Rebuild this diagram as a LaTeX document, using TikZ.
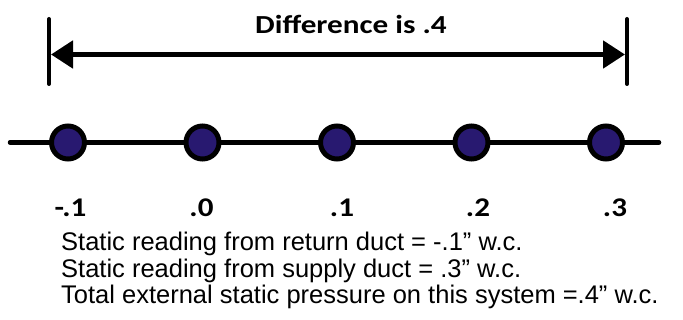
\documentclass[tikz,border=0pt]{standalone}
\usepackage{fontspec}
\setmainfont{Liberation Sans}
\newfontfamily\calib{Carlito}
\usetikzlibrary{arrows.meta}
\definecolor{dotblue}{RGB}{40,25,112}
\tikzset{
  dot/.style={circle,draw=black,line width=5pt,fill=dotblue,minimum size=33pt,inner sep=0pt},
  numlbl/.style={font=\calib\bfseries\fontsize{27}{29}\selectfont,inner sep=0pt,anchor=base,xscale=1.15},
  note/.style={font=\fontsize{25.5}{28}\selectfont,inner sep=0pt,anchor=base west},
  bar/.style={line width=4pt,line cap=round},
  dimarrow/.style={line width=5pt,>={Triangle[length=22pt,width=27pt]},<->},
}
\begin{document}
\begin{tikzpicture}[x=1pt,y=-1pt]
\useasboundingbox (0,0) rectangle (683,320);
% dimension bars
\coordinate (lt) at (49,19); \coordinate (lb) at (49,84);
\coordinate (rt) at (627,19); \coordinate (rb) at (627,84);
\draw[bar] (lt) -- (lb);
\draw[bar] (rt) -- (rb);
\coordinate (la) at (51,54.5); \coordinate (ra) at (625,54.5);
\draw[dimarrow] (la) -- (ra);
\node[font=\calib\bfseries\fontsize{26}{28}\selectfont,inner sep=0pt,anchor=base,xscale=1.2] (diff) at (351,34) {Difference is .4};
% axis
\coordinate (a0) at (10,142.5); \coordinate (a1) at (659,142.5);
\draw[line width=4.5pt,line cap=round] (a0) -- (a1);
\node[dot] (c1) at (68,142.5) {};
\node[dot] (c2) at (202.5,142.5) {};
\node[dot] (c3) at (337,142.5) {};
\node[dot] (c4) at (471.5,142.5) {};
\node[dot] (c5) at (606,142.5) {};
\node[numlbl] (n1) at (70.5,217) {-.1};
\node[numlbl] (n2) at (201.5,217) {.0};
\node[numlbl] (n3) at (342,217) {.1};
\node[numlbl] (n4) at (478,217) {.2};
\node[numlbl] (n5) at (615,217) {.3};
% notes
\node[note] (t1) at (61,251) {Static reading from return duct = -.1” w.c.};
\node[note] (t2) at (61,277.5) {Static reading from supply duct = .3” w.c.};
\node[note] (t3) at (61,304) {Total external static pressure on this system =.4” w.c.};
\end{tikzpicture}
\end{document}
